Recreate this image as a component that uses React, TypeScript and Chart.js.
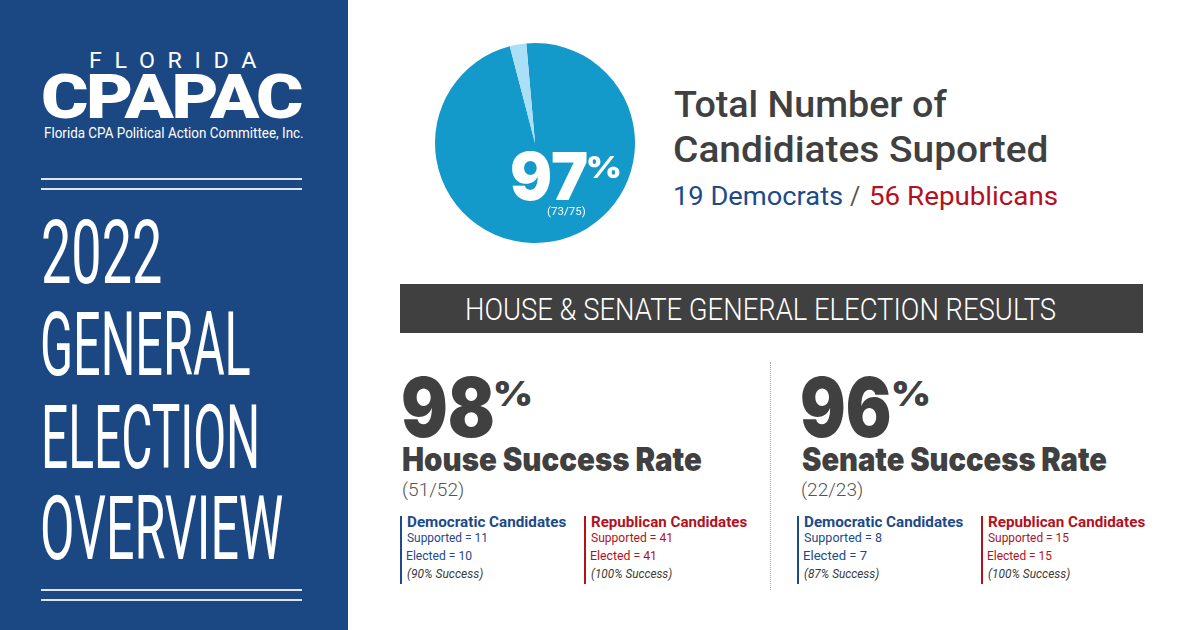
import React, { useEffect, useRef } from "react";
import { Chart, registerables } from "chart.js";

Chart.register(...registerables);

// ---------- data ----------
const pieLabels = ["Elected", "Not elected"];
const pieValues = [73, 2];
const pieTotalLabel = "97";
const totalDemocrats = 19;
const totalRepublicans = 56;

const chambers = ["House", "Senate"];
const chamberRate = ["98", "96"];
const chamberElected = [51, 22];
const chamberSupported = [52, 23];
const demSupported = [11, 8];
const demElected = [10, 7];
const demRate = ["90%", "87%"];
const repSupported = [41, 15];
const repElected = [41, 15];
const repRate = ["100%", "100%"];

// ---------- styles ----------
const PANEL = "#1b4882";
const PIE_MAIN = "#1499cb";
const PIE_LIGHT = "#aadff6";
const GRAY = "#404040";
const BLUE = "#1d4a8a";
const RED = "#b3111d";
const HEAVY = "Inter, Roboto, sans-serif";
const SANS = "Roboto, 'Liberation Sans', sans-serif";

const mctx = document.createElement("canvas").getContext("2d") as CanvasRenderingContext2D;

type TP = {
  x: number; y: number; w?: number; size: number; weight?: number; family?: string;
  color: string; italic?: boolean; ls?: number; children: string;
};

// Text placed by ink-left x and baseline y; box is tight around the ink.
function Txt({ x, y, w, size, weight = 400, family = SANS, color, italic = false, ls = 0, children }: TP) {
  const font = `${italic ? "italic " : ""}${weight} ${size}px ${family}`;
  mctx.font = font;
  (mctx as any).letterSpacing = ls + "px";
  const m = mctx.measureText(children);
  const a = m.fontBoundingBoxAscent;
  const d = m.fontBoundingBoxDescent;
  const ia = m.actualBoundingBoxAscent;
  const id = Math.max(0, m.actualBoundingBoxDescent);
  const abl = m.actualBoundingBoxLeft;
  const ink = m.actualBoundingBoxLeft + m.actualBoundingBoxRight;
  const s = w ? w / ink : 1;
  const L = 2 * ia - a + d;
  return (
    <div
      style={{
        position: "absolute",
        left: x + abl * s,
        top: y - ia,
        font,
        lineHeight: L + "px",
        height: ia + id,
        width: ink - abl,
        whiteSpace: "pre",
        color,
        letterSpacing: ls + "px",
        transform: `scaleX(${s})`,
        transformOrigin: "0 0",
      }}
    >
      {children}
    </div>
  );
}

function Pie() {
  const ref = useRef<HTMLCanvasElement>(null);
  useEffect(() => {
    const chart = new Chart(ref.current!, {
      type: "pie",
      data: {
        labels: pieLabels,
        datasets: [{ data: pieValues, backgroundColor: [PIE_MAIN, PIE_LIGHT], borderWidth: 0 }],
      },
      options: {
        responsive: false,
        animation: false,
        rotation: -5,
        layout: { padding: 5 },
        plugins: { legend: { display: false }, tooltip: { enabled: false } },
      },
    });
    return () => chart.destroy();
  }, []);
  return (
    <canvas ref={ref} width={210} height={210}
      style={{ position: "absolute", left: 430, top: 38, width: 210, height: 210 }} />
  );
}

const line = (top: number) => (
  <div style={{ position: "absolute", left: 41, top, width: 261, height: 2, background: "#dfe5ee" }} />
);

function SubCol({ x, color, title, sup, el, rate, widths }: any) {
  return (
    <>
      <div style={{ position: "absolute", left: x - 7, top: 516, width: 2, height: 68, background: color }} />
      <Txt x={x} y={527} w={widths[0]} size={14} weight={700} color={color}>{title}</Txt>
      <Txt x={x} y={542} w={widths[1]} size={12.5} color={color}>{`Supported = ${sup}`}</Txt>
      <Txt x={x} y={560} w={widths[2]} size={12.5} color={color}>{`Elected = ${el}`}</Txt>
      <Txt x={x} y={578} w={widths[3]} size={12.5} italic color="#3a3a3a">{`(${rate} Success)`}</Txt>
    </>
  );
}

export default function App() {
  const cx = [403, 802];
  const pctX = [495, 893];
  const rateW = [299, 305];
  const digitsW = [90, 88];
  const demX = [407, 804];
  const repX = [591, 988];
  const subW = [
    [[159, 79, 65, 76], [156, 80, 64, 81]],
    [[159, 78, 63, 75], [157, 81, 64, 82]],
  ];
  return (
    <div style={{ position: "fixed", left: 0, top: 0, width: 1200, height: 630, background: "#fff", overflow: "hidden" }}>
      {/* left panel */}
      <div style={{ position: "absolute", left: 0, top: 0, width: 348, height: 630, background: PANEL }} />
      <Txt x={90} y={68} w={167} size={22} ls={12} color="#fff">FLORIDA</Txt>
      <Txt x={43} y={118} w={259} size={61} weight={900} ls={-2} color="#fff">CPAPAC</Txt>
      <Txt x={45} y={138} w={258} size={14} color="#fff">Florida CPA Political Action Committee, Inc.</Txt>
      {line(178)}
      {line(188)}
      <Txt x={43} y={283} w={117} size={89} color="#fff">2022</Txt>
      <Txt x={43} y={375} w={207} size={89} color="#fff">GENERAL</Txt>
      <Txt x={45} y={468} w={212} size={89} color="#fff">ELECTION</Txt>
      <Txt x={43} y={559} w={240} size={89} color="#fff">OVERVIEW</Txt>
      {line(589)}
      {line(599)}

      {/* pie */}
      <Pie />
      <Txt x={512} y={200} w={75} size={66} weight={900} family={HEAVY} color="#fff">{pieTotalLabel}</Txt>
      <Txt x={588} y={178} w={32} size={30} weight={900} family={HEAVY} color="#fff">%</Txt>
      <Txt x={547} y={215} w={39} size={11} color="#fff">{`(${pieValues[0]}/${pieValues[0] + pieValues[1]})`}</Txt>

      <Txt x={674} y={117} w={273} size={36} weight={500} color={GRAY}>Total Number of</Txt>
      <Txt x={674} y={162} w={373} size={36} weight={500} color={GRAY}>Candidiates Suported</Txt>
      <Txt x={675} y={205} w={167} size={25} color={BLUE}>{`${totalDemocrats} Democrats`}</Txt>
      <Txt x={850} y={205} size={25} color="#555">/</Txt>
      <Txt x={870} y={205} w={187} size={25} color={RED}>{`${totalRepublicans} Republicans`}</Txt>

      {/* header bar */}
      <div style={{ position: "absolute", left: 400, top: 284, width: 743, height: 49, background: "#404040" }} />
      <Txt x={467} y={320} w={589} size={31} weight={300} color="#fff">HOUSE &amp; SENATE GENERAL ELECTION RESULTS</Txt>

      <div style={{ position: "absolute", left: 770, top: 362, width: 0, height: 228, borderLeft: "1px dotted #aaa" }} />

      {chambers.map((c, i) => (
        <React.Fragment key={c}>
          <Txt x={cx[i]} y={437} w={digitsW[i]} size={82} weight={900} family={HEAVY} color={GRAY}>{chamberRate[i]}</Txt>
          <Txt x={pctX[i]} y={406} w={36} size={34} weight={900} family={HEAVY} color={GRAY}>%</Txt>
          <Txt x={cx[i]} y={471} w={rateW[i]} size={33} weight={900} family={HEAVY} color={GRAY}>{`${c} Success Rate`}</Txt>
          <Txt x={cx[i]} y={496} w={60} size={19} weight={300} color="#555">{`(${chamberElected[i]}/${chamberSupported[i]})`}</Txt>
          <SubCol x={demX[i]} color={BLUE} title="Democratic Candidates" sup={demSupported[i]} el={demElected[i]} rate={demRate[i]} widths={subW[i][0]} />
          <SubCol x={repX[i]} color={RED} title="Republican Candidates" sup={repSupported[i]} el={repElected[i]} rate={repRate[i]} widths={subW[i][1]} />
        </React.Fragment>
      ))}
    </div>
  );
}
